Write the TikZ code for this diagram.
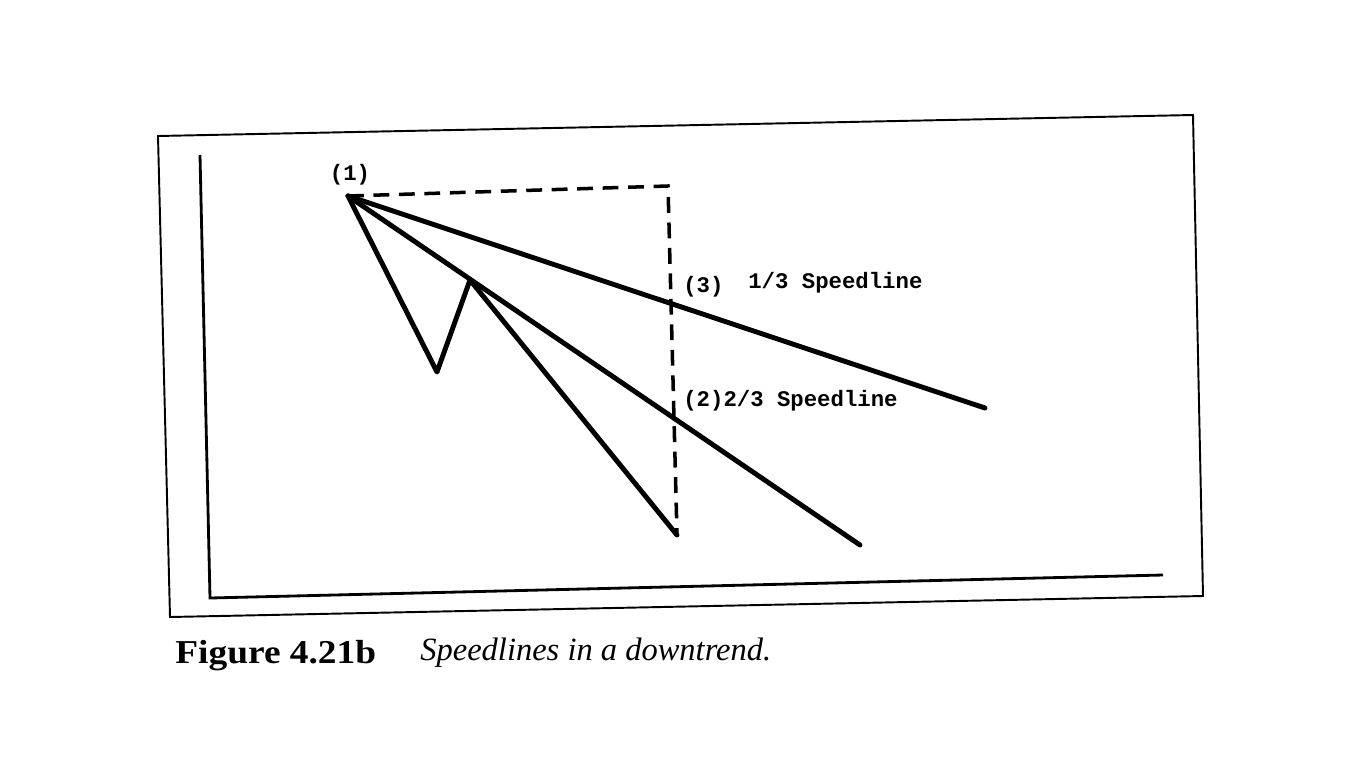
\documentclass[tikz,border=0pt]{standalone}
\usepackage{fontspec}
\setmainfont{Liberation Serif}
\setmonofont{Liberation Mono}
\usetikzlibrary{calc}

\begin{document}
\begin{tikzpicture}[x=0.02cm, y=-0.02cm,
  trend/.style={line width=2.8pt, line cap=round, line join=round},
  guide/.style={line width=2pt, dash pattern=on 9pt off 5.5pt},
  lbl/.style={font=\fontsize{12.7}{14}\selectfont\ttfamily\bfseries, inner sep=0pt}]
\useasboundingbox (0,0) rectangle (1366,768);
% outer frame and axes
\draw[line width=1.1pt] (158,136)--(1193,115)--(1203,596)--(170,617)--cycle;
\draw[line width=1.6pt] (200,155)--(210,598)--(1163,575);
% points
\coordinate (p1) at (348,196);
\coordinate (low) at (437,372);
\coordinate (peak) at (470,280);
\coordinate (bottom) at (677,535);
\coordinate (corner) at (668,186);
\coordinate (twoend) at (860,545);
\coordinate (oneend) at (985,408);
% price zigzag and speedlines
\draw[trend] (p1)--(low)--(peak)--(bottom);
\draw[trend] (p1)--(twoend);
\draw[trend] (p1)--(oneend);
\draw[guide] (p1)--(corner)--(bottom);
% labels
\path (350,175) node[lbl] (l1) {(1)};
\path (683,287) node[lbl, anchor=west] (l3) {(3)};
\path (748,283) node[lbl, anchor=west] (s13) {1/3 Speedline};
\path (683,401) node[lbl, anchor=west] (s23) {(2)2/3 Speedline};
% caption
\path (175,663) node[anchor=base west, inner sep=0pt] (fig)
  {\fontsize{19}{22}\selectfont\bfseries\scalebox{1.12}[1]{Figure 4.21b}};
\path (420,660) node[anchor=base west, inner sep=0pt] (cap)
  {\fontsize{18.5}{22}\selectfont\itshape Speedlines in a downtrend.};
\end{tikzpicture}
\end{document}
